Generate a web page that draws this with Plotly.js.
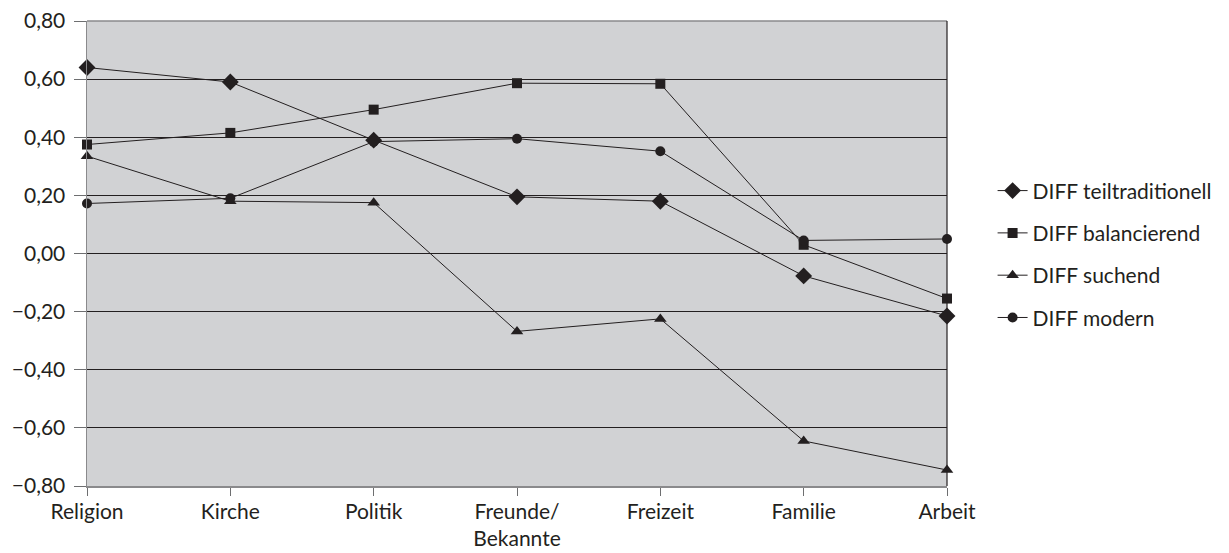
<!DOCTYPE html>
<html>
<head>
<meta charset="utf-8">
<script src="https://cdn.plot.ly/plotly-3.0.1.min.js"></script>
<style>html,body{margin:0;padding:0;background:#fff;}#chart{width:1229px;height:553px;}</style>
</head>
<body>
<div id="chart"></div>
<script>
const categories = ["Religion", "Kirche", "Politik", "Freunde/<br>Bekannte", "Freizeit", "Familie", "Arbeit"];
const seriesNames = ["DIFF teiltraditionell", "DIFF balancierend", "DIFF suchend", "DIFF modern"];
const teiltraditionell = [0.64, 0.59, 0.39, 0.195, 0.18, -0.077, -0.215];
const balancierend = [0.375, 0.415, 0.495, 0.586, 0.584, 0.03, -0.155];
const suchend = [0.335, 0.18, 0.175, -0.268, -0.225, -0.645, -0.745];
const modern = [0.172, 0.19, 0.385, 0.395, 0.352, 0.045, 0.05];
const yTickVals = [-0.8, -0.6, -0.4, -0.2, 0, 0.2, 0.4, 0.6, 0.8];
const yTickText = ["\u22120,80", "\u22120,60", "\u22120,40", "\u22120,20", "0,00", "0,20", "0,40", "0,60", "0,80"];

const ink = "#231f20";
const fontFam = "Lato, sans-serif";
const symbols = ["diamond", "square", "triangle-up", "circle"];
const sizes = [13, 10, 11, 10];
const allSeries = [teiltraditionell, balancierend, suchend, modern];

const traces = allSeries.map((vals, i) => ({
  type: "scatter",
  mode: "lines+markers",
  x: categories,
  y: vals,
  name: seriesNames[i],
  legendgroup: "g" + i,
  line: {color: ink, width: 1},
  marker: {symbol: symbols[i], size: sizes[i], color: ink},
  cliponaxis: false
}));

const layout = {
  width: 1229,
  height: 553,
  margin: {l: 87, r: 282, t: 21, b: 67},
  paper_bgcolor: "#ffffff",
  plot_bgcolor: "#d1d2d4",
  font: {family: fontFam, size: 21, color: ink},
  showlegend: true,
  legend: {
    x: 1.053, xanchor: "left",
    y: 0.498, yanchor: "middle",
    tracegroupgap: 12,
    font: {family: fontFam, size: 21, color: ink},
    itemwidth: 30,
    borderwidth: 0,
    bgcolor: "rgba(0,0,0,0)"
  },
  xaxis: {
    type: "category",
    range: [0, 6],
    showgrid: false,
    zeroline: false,
    showline: true,
    linecolor: "#8a8a8c",
    linewidth: 1.5,
    ticks: "outside",
    ticklen: 8,
    ticklabelstandoff: -2,
    tickcolor: "#6d6e70",
    tickfont: {family: fontFam, size: 21, color: ink},
    fixedrange: true
  },
  yaxis: {
    range: [-0.8, 0.8],
    tickvals: yTickVals,
    ticktext: yTickText,
    showgrid: true,
    gridcolor: "#231f20",
    gridwidth: 1,
    zeroline: false,
    showline: true,
    linecolor: "#8a8a8c",
    linewidth: 1.5,
    ticks: "outside",
    ticklen: 12,
    ticklabelstandoff: 4,
    tickcolor: "#6d6e70",
    tickfont: {family: fontFam, size: 21, color: ink},
    fixedrange: true
  },
  shapes: [
    {type: "line", xref: "paper", yref: "paper", x0: 0, x1: 1, y0: 1, y1: 1, line: {color: "#8a8a8c", width: 1.5}},
    {type: "line", xref: "paper", yref: "paper", x0: 1, x1: 1, y0: 0, y1: 1, line: {color: ink, width: 1.2}}
  ]
};

Plotly.newPlot("chart", traces, layout, {displayModeBar: false, staticPlot: true});
</script>
</body>
</html>
